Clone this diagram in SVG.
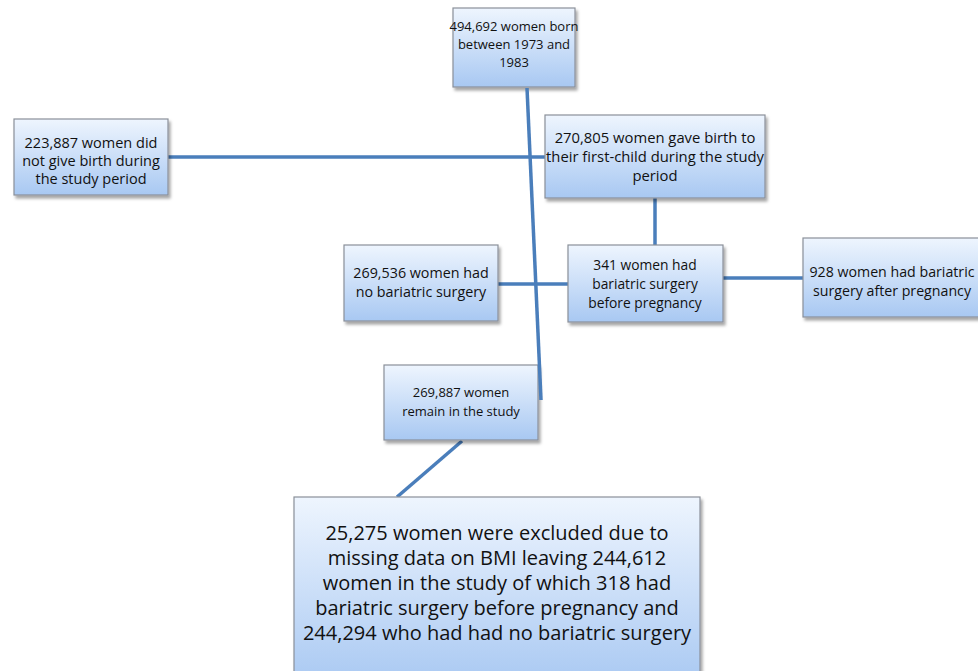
<svg xmlns="http://www.w3.org/2000/svg" width="978" height="671" viewBox="0 0 978 671">
<defs>
<linearGradient id="g" x1="0" y1="0" x2="0" y2="1">
<stop offset="0" stop-color="#eef5fe"/>
<stop offset="1" stop-color="#a8c8f2"/>
</linearGradient>
<filter id="sh" x="-10%" y="-10%" width="130%" height="130%">
<feDropShadow dx="2" dy="3" stdDeviation="1.5" flood-color="#000" flood-opacity="0.35"/>
</filter>
<style>
.b{fill:url(#g);stroke:#8a9099;stroke-width:1.2;filter:url(#sh)}
.t{font-family:"Open Sans","Liberation Sans",sans-serif;font-size:12.5px;fill:#111;text-anchor:middle}
.T{font-family:"Open Sans","Liberation Sans",sans-serif;font-size:20px;fill:#111;text-anchor:middle}
.c{stroke:#4a7ebb;stroke-width:3.5;fill:none}
</style>
</defs>
<g id="connectors">
<line class="c" x1="168" y1="157" x2="545" y2="157"/>
<line class="c" x1="655" y1="198" x2="655" y2="245"/>
<line class="c" x1="498" y1="284" x2="568" y2="284"/>
<line class="c" x1="723" y1="278" x2="803" y2="278"/>
<line class="c" x1="462" y1="441" x2="397" y2="497"/>
</g>
<g id="n1"><rect class="b" x="453" y="8" width="122" height="79"/>
<text class="t" x="514" y="31" style="font-size:13px">494,692 women born</text><text class="t" x="514" y="49" style="font-size:13px">between 1973 and</text><text class="t" x="514" y="67" style="font-size:13px">1983</text></g>
<g id="n2" style="font-size:14.5px"><rect class="b" x="14" y="119" width="154" height="76"/>
<text class="t" x="91" y="148" style="font-size:14.5px">223,887 women did</text><text class="t" x="91" y="166" style="font-size:14.5px">not give birth during</text><text class="t" x="91" y="184" style="font-size:14.5px">the study period</text></g>
<g id="n3"><rect class="b" x="545" y="115" width="220" height="83"/>
<text class="t" x="655" y="143" style="font-size:14.8px">270,805 women gave birth to</text><text class="t" x="655" y="162" style="font-size:14.8px">their first-child during the study</text><text class="t" x="655" y="181" style="font-size:14.8px">period</text></g>
<g id="n4"><rect class="b" x="344" y="245" width="154" height="76"/>
<text class="t" x="421" y="278" style="font-size:14.3px">269,536 women had</text><text class="t" x="421" y="297" style="font-size:14.3px">no bariatric surgery</text></g>
<g id="n5"><rect class="b" x="568" y="245" width="155" height="77"/>
<text class="t" x="645" y="270" style="font-size:13.8px">341 women had</text><text class="t" x="645" y="289" style="font-size:13.8px">bariatric surgery</text><text class="t" x="645" y="308" style="font-size:13.8px">before pregnancy</text></g>
<g id="n6"><rect class="b" x="803" y="238" width="180" height="79"/>
<text class="t" x="892" y="277" style="font-size:14.2px">928 women had bariatric</text><text class="t" x="892" y="296" style="font-size:14.2px">surgery after pregnancy</text></g>
<g id="n7"><rect class="b" x="384" y="365" width="154" height="75"/>
<text class="t" x="461" y="397" style="font-size:13px">269,887 women</text><text class="t" x="461" y="416" style="font-size:13px">remain in the study</text></g>
<g id="n8"><rect class="b" x="294" y="497" width="406" height="190"/>
<text class="T" x="497" y="540">25,275 women were excluded due to</text><text class="T" x="497" y="565">missing data on BMI leaving 244,612</text><text class="T" x="497" y="590">women in the study of which 318 had</text><text class="T" x="497" y="615">bariatric surgery before pregnancy and</text><text class="T" x="497" y="640">244,294 who had had no bariatric surgery</text></g>
<g id="connectors-over">
<line class="c" x1="527" y1="88" x2="541" y2="400"/>
</g>
</svg>
